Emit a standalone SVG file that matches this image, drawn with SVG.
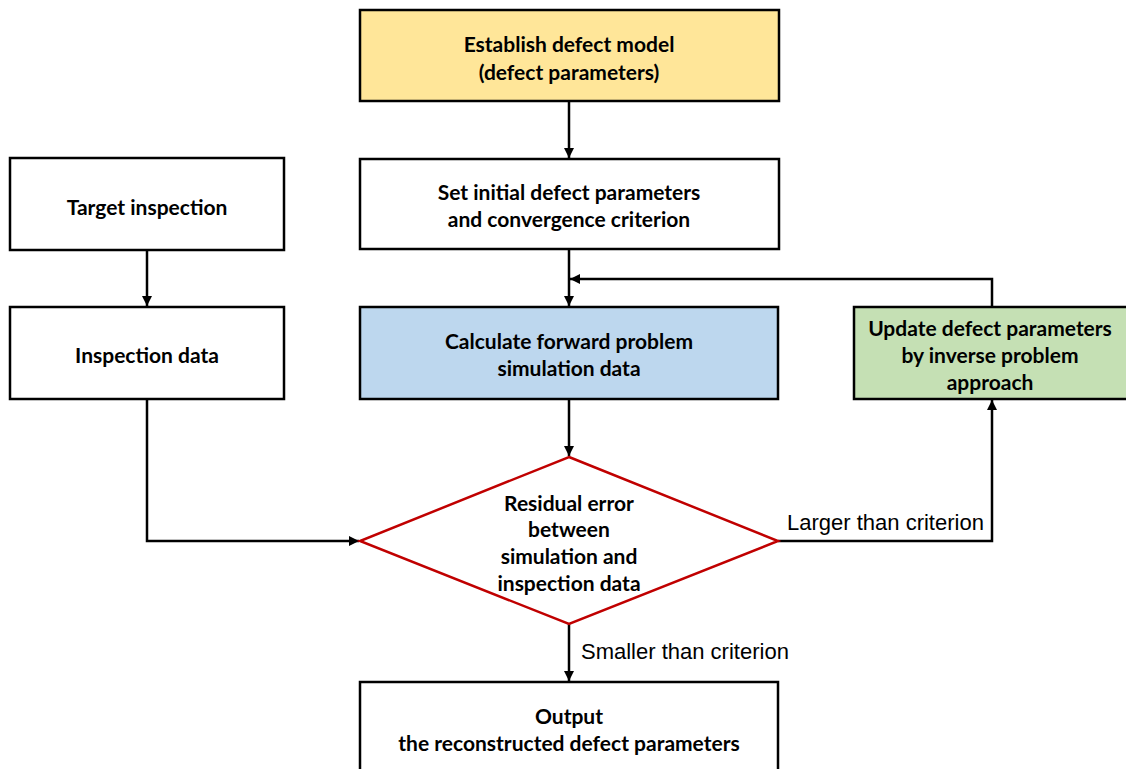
<svg xmlns="http://www.w3.org/2000/svg" width="1126" height="769" viewBox="0 0 1126 769">
  <style>
    .box { stroke: #000; stroke-width: 2.5; }
    .lbl { font-family: Lato, "Liberation Sans", sans-serif; font-weight: 700; font-size: 21px; fill: #000; text-anchor: middle; dominant-baseline: central; }
    .edge { font-family: "Liberation Sans", Arial, sans-serif; font-size: 22px; fill: #000; }
    .conn { fill: none; stroke: #000; stroke-width: 2.5; }
  </style>
  <defs>
    <marker id="arrow" viewBox="0 0 10 10" refX="10" refY="5" markerWidth="4" markerHeight="4" orient="auto" markerUnits="strokeWidth">
      <path d="M0,0 L10,5 L0,10 Z" fill="#000"/>
    </marker>
  </defs>
  <rect width="1126" height="769" fill="#fff"/>

  <g id="connectors">
    <path class="conn" d="M569,101 V158" marker-end="url(#arrow)"/>
    <path class="conn" d="M147,250 V306" marker-end="url(#arrow)"/>
    <path class="conn" d="M569,249 V306" marker-end="url(#arrow)"/>
    <path class="conn" d="M992,307 V279 H570" marker-end="url(#arrow)"/>
    <path class="conn" d="M569,399 V456" marker-end="url(#arrow)"/>
    <path class="conn" d="M147,399 V541 H359" marker-end="url(#arrow)"/>
    <path class="conn" d="M778,541 H992 V400" marker-end="url(#arrow)"/>
    <path class="conn" d="M569,624 V681" marker-end="url(#arrow)"/>
    <text class="edge" x="787" y="530">Larger than criterion</text>
    <text class="edge" x="581" y="659">Smaller than criterion</text>
  </g>

  <g id="establish-model">
    <rect class="box" x="360" y="10" width="419" height="91" fill="#FFE699"/>
    <text class="lbl" x="569" y="43">Establish defect model</text>
    <text class="lbl" x="569" y="71">(defect parameters)</text>
  </g>

  <g id="set-initial">
    <rect class="box" x="360" y="159" width="419" height="90" fill="#fff"/>
    <text class="lbl" x="569" y="191">Set initial defect parameters</text>
    <text class="lbl" x="569" y="218">and convergence criterion</text>
  </g>

  <g id="target-inspection">
    <rect class="box" x="10" y="158" width="274" height="92" fill="#fff"/>
    <text class="lbl" x="147" y="206">Target inspection</text>
  </g>

  <g id="inspection-data">
    <rect class="box" x="10" y="307" width="274" height="92" fill="#fff"/>
    <text class="lbl" x="147" y="354">Inspection data</text>
  </g>

  <g id="forward-problem">
    <rect class="box" x="360" y="307" width="418" height="92" fill="#BDD7EE"/>
    <text class="lbl" x="569" y="340">Calculate forward problem</text>
    <text class="lbl" x="569" y="367">simulation data</text>
  </g>

  <g id="update-parameters">
    <rect class="box" x="854" y="307" width="280" height="92" fill="#C5E0B4"/>
    <text class="lbl" x="990" y="327">Update defect parameters</text>
    <text class="lbl" x="990" y="354">by inverse problem</text>
    <text class="lbl" x="990" y="381">approach</text>
  </g>

  <g id="residual-check">
    <polygon points="569,457 778,541 569,624 360,541" fill="#fff" stroke="#C00000" stroke-width="2.5"/>
    <text class="lbl" x="569" y="502">Residual error</text>
    <text class="lbl" x="569" y="528">between</text>
    <text class="lbl" x="569" y="555">simulation and</text>
    <text class="lbl" x="569" y="582">inspection data</text>
  </g>

  <g id="output">
    <rect class="box" x="360" y="682" width="418" height="100" fill="#fff"/>
    <text class="lbl" x="569" y="715">Output</text>
    <text class="lbl" x="569" y="742">the reconstructed defect parameters</text>
  </g>
</svg>
